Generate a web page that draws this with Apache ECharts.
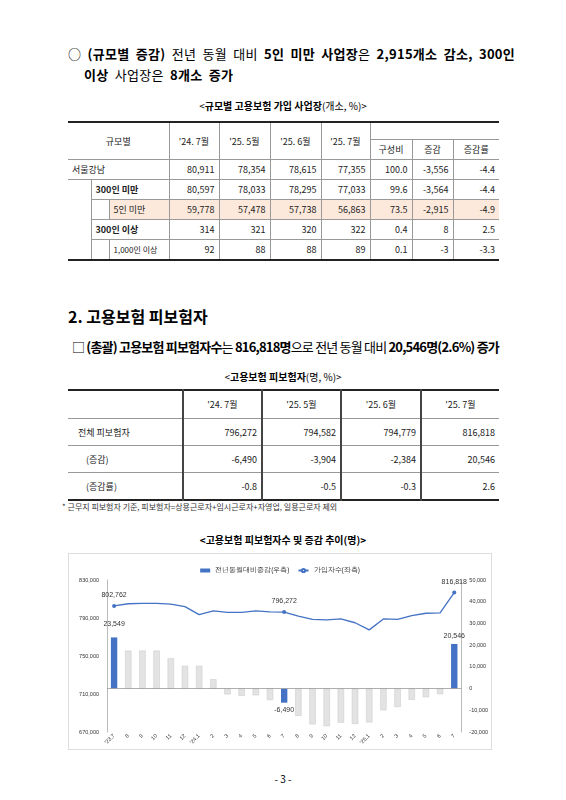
<!DOCTYPE html>
<html><head><meta charset="utf-8">
<script src="https://cdn.jsdelivr.net/npm/echarts@6/dist/echarts.min.js"></script>
<style>
body{margin:0;width:566px;height:800px;background:#fff;font-family:"Noto Sans CJK KR","Noto Sans",sans-serif;color:#000;position:relative;overflow:hidden}
.a{position:absolute;white-space:nowrap}
b{font-weight:700}
table{position:absolute;border-collapse:collapse;font-size:9px;color:#222;line-height:11px}
td{border:1px solid #999;padding:0 4px;text-align:right;height:19px}
td.c{text-align:center}
td.l{text-align:left}
</style></head><body>
<div class="a" style="left:68px;top:44px;font-size:13px;word-spacing:3px;letter-spacing:0.3px">○ <b>(규모별 증감)</b> 전년 동월 대비 <b>5인 미만 사업장</b>은 <b>2,915개소 감소, 300인</b></div>
<div class="a" style="left:84px;top:65px;font-size:13px;word-spacing:3px;letter-spacing:0.3px"><b>이상</b> 사업장은 <b>8개소 증가</b></div>
<div class="a" style="left:0;width:566px;text-align:center;top:98px;font-size:10px">&lt;<b>규모별 고용보험 가입 사업장</b>(개소, %)&gt;</div>
<table style="left:68px;top:121px;width:431px;border-top:2px solid #222;border-bottom:2px solid #222">
<colgroup><col style="width:23px"><col style="width:18px"><col style="width:60px"><col style="width:50px"><col style="width:51px"><col style="width:51px"><col style="width:49px"><col style="width:42px"><col style="width:41px"><col style="width:46px"></colgroup>
<tr><td class="c" colspan="3" rowspan="2" style="border-left:none">규모별</td><td class="c" rowspan="2">'24. 7월</td><td class="c" rowspan="2">'25. 5월</td><td class="c" rowspan="2">'25. 6월</td><td class="c" rowspan="2">'25. 7월</td><td colspan="3" style="border-top:none;border-bottom:none;height:16px;border-right:none"></td></tr>
<tr><td class="c" style="height:18px">구성비</td><td class="c">증감</td><td class="c" style="border-right:none">증감률</td></tr>
<tr><td class="l" colspan="3" style="border-left:none">서울강남</td><td>80,911</td><td>78,354</td><td>78,615</td><td>77,355</td><td>100.0</td><td>-3,556</td><td style="border-right:none">-4.4</td></tr>
<tr><td rowspan="4" style="border-left:none;border-bottom:none"></td><td class="l" colspan="2"><b>300인 미만</b></td><td>80,597</td><td>78,033</td><td>78,295</td><td>77,033</td><td>99.6</td><td>-3,564</td><td style="border-right:none">-4.4</td></tr>
<tr style="background:#fde9dc"><td style="background:#fff"></td><td class="l">5인 미만</td><td>59,778</td><td>57,478</td><td>57,738</td><td>56,863</td><td>73.5</td><td>-2,915</td><td style="border-right:none">-4.9</td></tr>
<tr><td class="l" colspan="2"><b>300인 이상</b></td><td>314</td><td>321</td><td>320</td><td>322</td><td>0.4</td><td>8</td><td style="border-right:none">2.5</td></tr>
<tr><td></td><td class="l" style="font-size:8px">1,000인 이상</td><td>92</td><td>88</td><td>88</td><td>89</td><td>0.1</td><td>-3</td><td style="border-right:none">-3.3</td></tr>
</table>
<div class="a" style="left:68px;top:304px;font-size:16px;font-weight:700">2. 고용보험 피보험자</div>
<div class="a" style="left:72px;top:337px;font-size:13px;letter-spacing:-0.8px">□ <b>(총괄) 고용보험 피보험자수</b>는 <b>816,818명</b>으로 전년 동월 대비 <b>20,546명(2.6%) 증가</b></div>
<div class="a" style="left:0;width:566px;text-align:center;top:369px;font-size:10px">&lt;<b>고용보험 피보험자</b>(명, %)&gt;</div>
<table style="left:68px;top:389px;width:431px;border-top:2px solid #222;border-bottom:2px solid #222">
<colgroup><col style="width:115px"><col style="width:79px"><col style="width:79px"><col style="width:80px"><col style="width:78px"></colgroup>
<tr><td style="border-left:none;height:27px;border-right:2px solid #444"></td><td class="c" style="border-right:2px solid #444">'24. 7월</td><td class="c" style="border-right:2px solid #444">'25. 5월</td><td class="c" style="border-right:2px solid #444">'25. 6월</td><td class="c" style="border-right:none">'25. 7월</td></tr>
<tr><td class="l" style="border-left:none;height:26px;padding-left:10px;border-right:2px solid #444">전체 피보험자</td><td style="border-right:2px solid #444">796,272</td><td style="border-right:2px solid #444">794,582</td><td style="border-right:2px solid #444">794,779</td><td style="border-right:none">816,818</td></tr>
<tr><td class="l" style="border-left:none;height:26px;padding-left:18px;border-right:2px solid #444">(증감)</td><td style="border-right:2px solid #444">-6,490</td><td style="border-right:2px solid #444">-3,904</td><td style="border-right:2px solid #444">-2,384</td><td style="border-right:none">20,546</td></tr>
<tr><td class="l" style="border-left:none;height:26px;padding-left:18px;border-right:2px solid #444">(증감률)</td><td style="border-right:2px solid #444">-0.8</td><td style="border-right:2px solid #444">-0.5</td><td style="border-right:2px solid #444">-0.3</td><td style="border-right:none">2.6</td></tr>
</table>
<div class="a" style="left:62px;top:501px;font-size:8px;color:#333">* 근무지 피보험자 기준, 피보험자=상용근로자+임시근로자+자영업, 일용근로자 제외</div>
<div class="a" style="left:0;width:566px;text-align:center;top:532px;font-size:10px;font-weight:700">&lt;고용보험 피보험자수 및 증감 추이(명)&gt;</div>
<div id="chart" class="a" style="left:68px;top:553px;width:424px;height:197px;border:1px solid #ddd;box-sizing:border-box"></div>
<div class="a" style="left:0;width:566px;text-align:center;top:771px;font-size:10px">- 3 -</div>
<script>
const categories=["'23.7","8","9","10","11","12","'24.1","2","3","4","5","6","7","8","9","10","11","12","'25.1","2","3","4","5","6","7"];
const changeValues=[23549,17500,17500,17500,14000,10500,10500,4300,-2700,-3300,-3100,-5300,-6490,-12600,-16500,-17300,-15700,-16300,-15600,-10000,-8500,-5200,-4000,-2600,20546];
const insuredValues=[802762,805000,805500,805500,804500,802000,793500,797500,796000,796000,797500,796500,796272,792000,788500,788000,789000,785000,777500,789000,788500,792500,795000,795500,816818];
const highlight=[0,12,24];
const blue='#4472C4';
const chart=echarts.init(document.getElementById('chart'));
const fs=7;
chart.setOption({
 animation:false,
 legend:{top:8,left:'center',itemWidth:10,itemHeight:4,textStyle:{fontSize:6.5,color:'#333'},
   data:[{name:'전년동월대비증감(우측)',icon:'rect'},{name:'가입자수(좌측)'}]},
 grid:{left:38,right:26,top:26,bottom:17},
 xAxis:{type:'category',data:categories,axisLine:{show:false},axisTick:{show:false},
   axisLabel:{rotate:45,fontSize:5.5,color:'#333',interval:0,margin:3}},
 yAxis:[
  {type:'value',min:670000,max:830000,interval:10000,splitLine:{show:false},
   axisLine:{show:true,lineStyle:{color:'#bbb'}},axisTick:{show:false},
   axisLabel:{fontSize:5.5,color:'#333',formatter:v=>((v-670000)%40000===0?v.toLocaleString('en-US'):'')}},
  {type:'value',min:-20000,max:50000,interval:10000,splitLine:{show:false},
   axisLine:{show:true,lineStyle:{color:'#bbb'}},axisTick:{show:false},
   axisLabel:{fontSize:5.5,color:'#333',formatter:v=>v.toLocaleString('en-US')}}
 ],
 series:[
  {name:'전년동월대비증감(우측)',type:'bar',yAxisIndex:1,barWidth:'45%',itemStyle:{color:blue},
   data:changeValues.map((v,i)=>highlight.includes(i)?{value:v,itemStyle:{color:blue},
     label:{show:true,position:v>0?'top':'bottom',fontSize:fs,color:'#333',distance:i==0?10:4,formatter:p=>p.value.toLocaleString('en-US')}}
     :{value:v,itemStyle:{color:'#e3e3e3',borderColor:'#c8c8c8',borderWidth:0.5}}),
   markLine:{silent:true,symbol:'none',label:{show:false},lineStyle:{color:'#999',type:'solid',width:0.8},data:[{yAxis:0}]}},
  {name:'가입자수(좌측)',type:'line',yAxisIndex:0,color:blue,lineStyle:{width:1.3,color:blue},
   data:insuredValues.map((v,i)=>highlight.includes(i)?{value:v,symbol:'circle',symbolSize:4,
     label:{show:true,position:'top',fontSize:fs,color:'#333',formatter:p=>p.value.toLocaleString('en-US')}}:{value:v,symbol:'none'})}
 ]
});
</script>
</body></html>
